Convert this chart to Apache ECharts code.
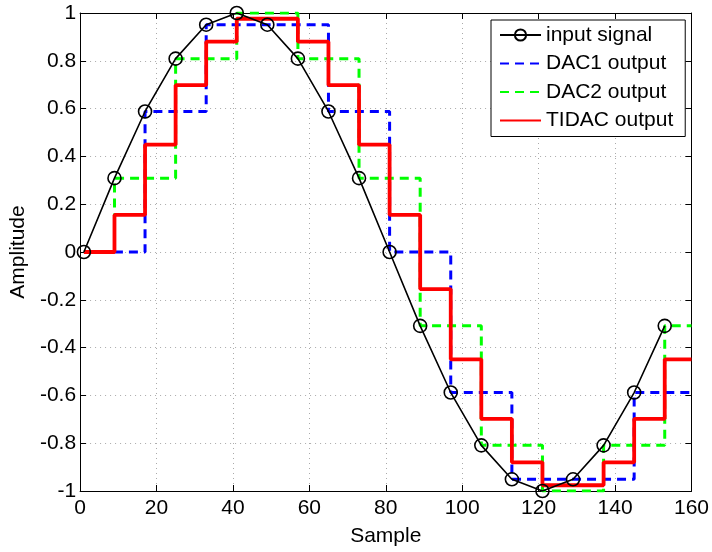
<!DOCTYPE html>
<html>
<head>
<meta charset="utf-8">
<script src="https://cdn.jsdelivr.net/npm/echarts@6/dist/echarts.min.js"></script>
<style>html,body{margin:0;padding:0;background:#fff}#c{width:712px;height:552px}</style>
</head>
<body>
<div id="c"></div>
<script>
const inputX = [1, 9, 17, 25, 33, 41, 49, 57, 65, 73, 81, 89, 97, 105, 113, 121, 129, 137, 145, 153];
const inputSignal = [0, 0.309, 0.588, 0.809, 0.951, 1, 0.951, 0.809, 0.588, 0.309, 0, -0.309, -0.588, -0.809, -0.951, -1, -0.951, -0.809, -0.588, -0.309];
const dac1X = [1, 17, 33, 49, 65, 81, 97, 113, 129, 145, 160];
const dac1 = [0, 0.588, 0.951, 0.951, 0.588, 0, -0.588, -0.951, -0.951, -0.588, -0.588];
const dac2X = [1, 9, 25, 41, 57, 73, 89, 105, 121, 137, 153, 160];
const dac2 = [0, 0.309, 0.809, 1, 0.809, 0.309, -0.309, -0.809, -1, -0.809, -0.309, -0.309];
const tidacX = [1, 9, 17, 25, 33, 41, 49, 57, 65, 73, 81, 89, 97, 105, 113, 121, 129, 137, 145, 153, 160];
const tidac = [0, 0.155, 0.449, 0.698, 0.88, 0.976, 0.976, 0.88, 0.698, 0.449, 0.155, -0.155, -0.449, -0.698, -0.88, -0.976, -0.976, -0.88, -0.698, -0.449, -0.449];
const seriesNames = ['input signal', 'DAC1 output', 'DAC2 output', 'TIDAC output'];
const xAxisName = 'Sample';
const yAxisName = 'Amplitude';

const pairs = (xs, ys) => xs.map((x, i) => [x, ys[i]]);
const FONT = 'Liberation Sans, Arial, Helvetica, sans-serif';
const FS = 21;

const chart = echarts.init(document.getElementById('c'), null, {renderer: 'canvas'});
const baseAxis = {
  axisLine: {show: true, onZero: false, lineStyle: {color: '#000', width: 1}},
  axisTick: {show: true, inside: true, length: 6, lineStyle: {color: '#000', width: 1}},
};
chart.setOption({
  animation: false,
  backgroundColor: '#fff',
  grid: {left: 80, top: 13, right: 20, bottom: 57, containLabel: false},
  legend: {
    data: seriesNames,
    orient: 'vertical',
    left: 491,
    top: 20,
    padding: [4.5, 12, 5.5, 8],
    itemGap: 7.5,
    itemWidth: 41,
    itemHeight: 14,
    backgroundColor: '#fff',
    borderColor: '#000',
    borderWidth: 1,
    borderRadius: 0,
    textStyle: {fontFamily: FONT, fontSize: FS, color: '#000', padding: [0, 0, 0, 0]}
  },
  xAxis: [
    Object.assign({}, baseAxis, {
      type: 'value', min: 0, max: 160, interval: 20, position: 'bottom',
      name: xAxisName, nameLocation: 'middle', nameGap: 35,
      nameTextStyle: {fontFamily: FONT, fontSize: FS, color: '#000'},
      axisLabel: {fontFamily: FONT, fontSize: FS, color: '#000', margin: 7},
      splitLine: {show: true, lineStyle: {color: '#aaa', type: [1, 4], width: 1}}
    }),
    Object.assign({}, baseAxis, {
      type: 'value', min: 0, max: 160, interval: 20, position: 'top',
      axisLabel: {show: false}, splitLine: {show: false}
    })
  ],
  yAxis: [
    Object.assign({}, baseAxis, {
      type: 'value', min: -1, max: 1, interval: 0.2, position: 'left',
      name: yAxisName, nameLocation: 'middle', nameGap: 50,
      nameTextStyle: {fontFamily: FONT, fontSize: FS, color: '#000'},
      axisLabel: {fontFamily: FONT, fontSize: FS, color: '#000', margin: 4,
        formatter: v => String(Math.round(v * 10) / 10)},
      splitLine: {show: true, lineStyle: {color: '#aaa', type: [1, 4], width: 1}}
    }),
    Object.assign({}, baseAxis, {
      type: 'value', min: -1, max: 1, interval: 0.2, position: 'right',
      axisLabel: {show: false}, splitLine: {show: false}
    })
  ],
  series: [
    {
      name: seriesNames[1], type: 'line', step: 'end', data: pairs(dac1X, dac1),
      showSymbol: false, symbol: 'none', z: 3,
      color: '#0000ff', itemStyle: {opacity: 0},
      lineStyle: {color: '#0000ff', width: 3, type: [9, 6]}
    },
    {
      name: seriesNames[2], type: 'line', step: 'end', data: pairs(dac2X, dac2),
      showSymbol: false, symbol: 'none', z: 2,
      color: '#00ff00', itemStyle: {opacity: 0},
      lineStyle: {color: '#00ff00', width: 3, type: [9, 6]}
    },
    {
      name: seriesNames[3], type: 'line', step: 'end', data: pairs(tidacX, tidac),
      showSymbol: false, symbol: 'none', z: 4,
      color: '#ff0000', itemStyle: {opacity: 0},
      lineStyle: {color: '#ff0000', width: 3.8}
    },
    {
      name: seriesNames[0], type: 'line', data: pairs(inputX, inputSignal),
      symbol: 'circle', symbolSize: 13, showSymbol: true, z: 5,
      itemStyle: {color: 'rgba(0,0,0,0)', borderColor: '#000', borderWidth: 1.6},
      lineStyle: {color: '#000', width: 1.6}
    }
  ]
});
</script>
</body>
</html>
